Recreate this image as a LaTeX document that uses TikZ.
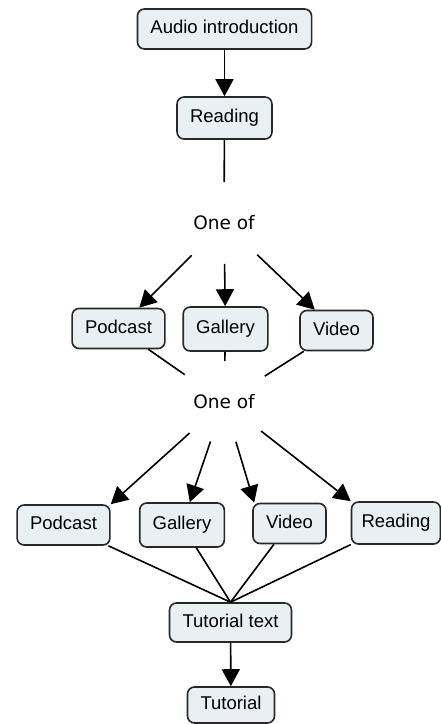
\documentclass[tikz,border=0pt]{standalone}
\usepackage{fontspec}
\setmainfont{Liberation Sans}
\newfontfamily\choicefont{DejaVu Sans}
\usetikzlibrary{arrows.meta,shapes.geometric}
\definecolor{boxfill}{RGB}{232,240,244}
\definecolor{boxline}{RGB}{40,40,40}

\begin{document}
\begin{tikzpicture}[x=1pt, y=-1pt, font=\fontsize{18.5}{22}\selectfont, >={Triangle[length=17pt,width=18pt]}, line width=1.6pt]
    \tikzstyle{block}=[draw=boxline, fill=boxfill, rounded corners=7pt, minimum height=40pt, inner xsep=13pt, inner ysep=0pt, text height=13.5pt, text depth=4pt]
    \tikzstyle{choice}=[ellipse, minimum width=104pt, minimum height=80pt, inner sep=0pt, font=\fontsize{18.5}{22}\selectfont\choicefont]
    \useasboundingbox (0,0) rectangle (441,724);
    \node[block] (audio) at (224.5,29) {Audio introduction};
    \node[block, minimum height=42pt] (read1) at (224.5,118) {Reading};
    \draw[->] (audio) -- (read1);
    \node[choice] (oneA) at (224,223) {One of};
    \draw (read1) -- (oneA);
    \node[block] (pod1) at (118.5,328.5) {Podcast};
    \node[block, minimum height=44pt] (gal1) at (225.5,329) {Gallery};
    \node[block] (vid1) at (336.5,330.5) {Video};
    \draw[->] (oneA) -- (pod1); \draw[->] (oneA) -- (gal1); \draw[->] (oneA) -- (vid1);
    \node[choice] (oneB) at (224,402) {One of};
    \draw (pod1) -- (oneB); \draw (gal1) -- (oneB); \draw (vid1) -- (oneB);
    \node[block] (pod2) at (63.5,525) {Podcast};
    \node[block, minimum height=44pt] (gal2) at (182,525) {Gallery};
    \node[block] (vid2) at (289.5,523.5) {Video};
    \node[block, minimum height=42pt, inner xsep=10pt] (read2) at (396,523) {Reading};
    \draw[->] (oneB) -- (pod2.north east); \draw[->] (oneB) -- (gal2);
    \draw[->] (oneB) -- ([xshift=2pt]vid2.north west); \draw[->] (oneB) -- (read2.north west);
    \node[block, minimum height=39pt] (ttext) at (230.5,622.5) {Tutorial text};
    \draw (pod2) -- (ttext.north); \draw (gal2) -- (ttext.north);
    \draw (vid2) -- (ttext.north); \draw (read2) -- (ttext.north);
    \node[block, minimum height=36pt] (tut) at (231,705) {Tutorial};
    \draw[->] (ttext) -- (tut);
\end{tikzpicture}
\end{document}
